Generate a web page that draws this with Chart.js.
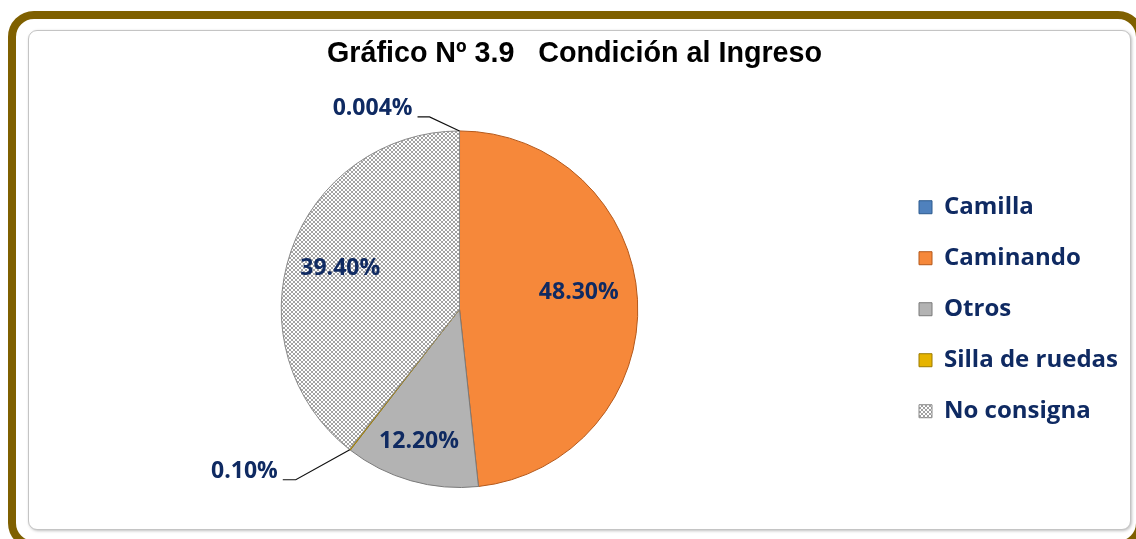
<!DOCTYPE html>
<html><head><meta charset="utf-8">
<script src="https://cdn.jsdelivr.net/npm/chart.js@4.4.0/dist/chart.umd.min.js"></script>
<style>
html,body{margin:0;padding:0;width:1136px;height:539px;overflow:hidden;background:#fff;}
#outer{position:absolute;left:8px;top:11px;width:1136px;height:538px;box-sizing:border-box;border:8px solid #7f6000;border-radius:26px;}
#inner{position:absolute;left:28px;top:30px;width:1103px;height:500px;box-sizing:border-box;border:1px solid #c4c4c4;border-radius:9px;box-shadow:1px 1px 3px rgba(0,0,0,0.25);background:#fff;}
#wrap{position:absolute;left:0;top:0;width:1136px;height:539px;}
</style></head>
<body>
<div id="outer"></div>
<div id="inner"></div>
<div id="wrap"><canvas id="c" width="1136" height="539"></canvas></div>
<script>
// ---- data ----
const titleText = 'Gráfico Nº 3.9   Condición al Ingreso';
const categories = ['Camilla', 'Caminando', 'Otros', 'Silla de ruedas', 'No consigna'];
const values = [0.004, 48.3, 12.2, 0.1, 39.4];
const valueLabels = ['0.004%', '48.30%', '12.20%', '0.10%', '39.40%'];

// ---- styles ----
const NAVY = '#0f2a62';
function hatch() {
  const c = document.createElement('canvas'); c.width = 4; c.height = 4;
  const x = c.getContext('2d');
  x.fillStyle = '#ffffff'; x.fillRect(0, 0, 4, 4);
  x.fillStyle = '#a2a2a2';
  for (let i = 0; i < 4; i++) { x.fillRect(i, i, 1, 1); x.fillRect(3 - i, i, 1, 1); }
  return x.createPattern(c, 'repeat');
}
const fills = ['#4f81bd', '#f6883a', '#b3b3b3', '#e6b400', hatch()];
const edges = ['#2c5a8f', '#b4581a', '#7a7a7a', '#9c7a00', '#8a8a8a'];
const labelStyle = [
  { leader: true, elbow: [-30, -14], stub: 12 },
  { f: 0.67, dx: 0, dy: -10 },
  { f: 0.77, dx: -3, dy: 0 },
  { leader: true, elbow: [-54, 30], stub: 13 },
  { f: 0.708, dx: 0, dy: 0 }
];

const sliceLabels = {
  id: 'sliceLabels',
  afterDatasetsDraw(chart) {
    const ctx = chart.ctx;
    const meta = chart.getDatasetMeta(0);
    ctx.save();
    ctx.font = 'bold 23px "Open Sans"';
    ctx.fillStyle = NAVY;
    meta.data.forEach((arc, i) => {
      const p = arc.getProps(['x', 'y', 'startAngle', 'endAngle', 'outerRadius'], true);
      const mid = (p.startAngle + p.endAngle) / 2;
      const st = labelStyle[i];
      if (st.leader) {
        const ax = p.x + Math.cos(mid) * p.outerRadius;
        const ay = p.y + Math.sin(mid) * p.outerRadius;
        const ex = ax + st.elbow[0], ey = ay + st.elbow[1];
        const sx = ex - st.stub;
        ctx.beginPath();
        ctx.moveTo(ax, ay); ctx.lineTo(ex, ey); ctx.lineTo(sx, ey);
        ctx.strokeStyle = '#111'; ctx.lineWidth = 1.2; ctx.stroke();
        ctx.textAlign = 'right'; ctx.textBaseline = 'middle';
        ctx.fillText(valueLabels[i], sx - 5, ey - 8);
      } else {
        const r = p.outerRadius * st.f;
        ctx.textAlign = 'center'; ctx.textBaseline = 'middle';
        ctx.fillText(valueLabels[i], p.x + Math.cos(mid) * r + st.dx, p.y + Math.sin(mid) * r + st.dy);
      }
    });
    ctx.restore();
  }
};

new Chart(document.getElementById('c'), {
  type: 'pie',
  data: {
    labels: categories,
    datasets: [{ data: values, backgroundColor: fills, borderColor: edges, borderWidth: 1 }]
  },
  options: {
    responsive: false,
    animation: false,
    devicePixelRatio: 1,
    layout: { padding: { left: 27, right: 14, top: 0, bottom: 51 } },
    plugins: {
      title: {
        display: true, text: titleText, color: '#000',
        font: { family: '"Liberation Sans", Arial, sans-serif', size: 28.7, weight: 'bold' },
        padding: { top: 37, bottom: 59 }
      },
      legend: {
        position: 'right', align: 'center', fullSize: false, maxWidth: 230,
        labels: {
          boxWidth: 13, boxHeight: 13, padding: 27, color: NAVY,
          font: { family: '"Open Sans", sans-serif', size: 24, weight: 'bold' }
        }
      },
      tooltip: { enabled: false }
    }
  },
  plugins: [sliceLabels]
});
</script>
</body></html>
